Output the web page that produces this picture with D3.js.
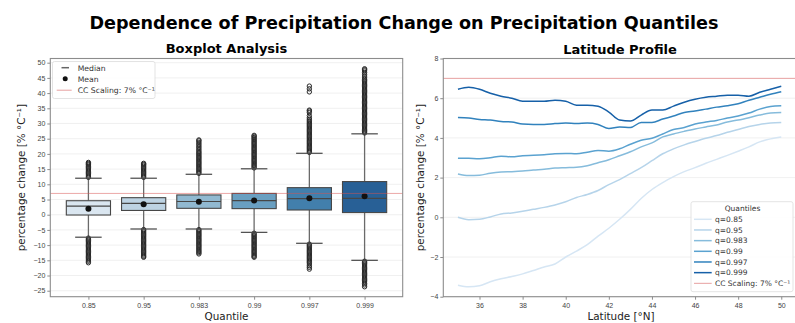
<!DOCTYPE html>
<html>
<head>
<meta charset="utf-8">
<script src="https://cdnjs.cloudflare.com/ajax/libs/d3/7.8.5/d3.min.js"></script>
<style>
  body { margin: 0; background: #fff; }
  svg { font-family: "DejaVu Sans", sans-serif; }
  .tick text { fill: #444; }
</style>
</head>
<body>
<div id="chart"></div>
<script>
var width = 795
var height = 323

// ---- boxplot data (percentage change, % per degC) ----
var quantiles = ['0.85', '0.95', '0.983', '0.99', '0.997', '0.999']
var q1 = [-0.1, 1.4, 2.1, 2.0, 1.55, 0.7]
var median = [2.8, 3.75, 4.35, 4.6, 5.3, 5.35]
var q3 = [4.6, 5.6, 6.5, 7.0, 8.9, 10.9]
var whiskerLow = [-7.4, -4.7, -4.7, -5.8, -9.4, -15.0]
var whiskerHigh = [12.0, 12.0, 13.3, 15.1, 20.2, 26.6]
var means = [2.0, 3.4, 4.3, 4.7, 5.4, 6.1]

var outHigh = [
  [12.3,12.7,13.1,13.5,13.9,14.3,14.7,15.1,15.5,15.9,16.3,16.6,16.9,17.2],
  [12.3,12.7,13.1,13.5,13.9,14.3,14.7,15.1,15.5,15.9,16.3,16.6,16.9],
  [13.6,14.0,14.4,14.8,15.2,15.6,16.0,16.4,16.8,17.2,17.6,18.0,18.4,18.8,19.2,19.6,20.0,20.4,20.8,21.3,21.8,22.3,22.8,23.3,23.8,24.3,24.6],
  [15.4,15.8,16.2,16.6,17.0,17.4,17.8,18.2,18.6,19.0,19.4,19.8,20.2,20.6,21.0,21.4,21.8,22.2,22.6,23.0,23.4,23.8,24.2,24.6,25.0,25.4,25.8,26.1],
  [20.5,20.9,21.3,21.7,22.1,22.5,22.9,23.3,23.7,24.1,24.5,24.9,25.3,25.7,26.1,26.5,26.9,27.3,27.7,28.1,28.5,28.9,29.3,29.7,30.1,30.5,30.9,31.4,31.9,32.6,33.6,34.1,34.4,40.4,41.4,42.3],
  [26.9,27.3,27.7,28.1,28.5,28.9,29.3,29.7,30.1,30.5,30.9,31.3,31.7,32.1,32.5,32.9,33.3,33.7,34.1,34.5,34.9,35.3,35.7,36.1,36.5,36.9,37.3,37.7,38.1,38.5,38.9,39.3,39.7,40.1,40.5,40.9,41.3,41.7,42.1,42.5,42.9,43.3,43.7,44.1,44.5,45.0,45.6,46.2,46.8,47.3,47.7,48.0]
]
var outLow = [
  [-7.7,-8.1,-8.5,-8.9,-9.3,-9.7,-10.1,-10.5,-10.9,-11.3,-11.7,-12.1,-12.5,-12.9,-13.3,-13.7,-14.1,-14.5,-14.9,-15.3,-15.8],
  [-4.9,-5.3,-5.7,-6.1,-6.5,-6.9,-7.3,-7.7,-8.1,-8.5,-8.9,-9.3,-9.7,-10.1,-10.5,-10.9,-11.3,-11.7,-12.1,-12.5,-12.9,-13.3,-13.7,-14.0],
  [-4.9,-5.3,-5.7,-6.1,-6.5,-6.9,-7.3,-7.7,-8.1,-8.5,-8.9,-9.3,-9.7,-10.1,-10.5,-10.9,-11.3,-11.7,-12.1,-12.5,-12.9],
  [-6.1,-6.5,-6.9,-7.3,-7.7,-8.1,-8.5,-8.9,-9.3,-9.7,-10.1,-10.5,-10.9,-11.3,-11.7,-12.1,-12.5,-12.9,-13.3,-13.7,-14.0],
  [-9.7,-10.1,-10.5,-10.9,-11.3,-11.7,-12.1,-12.5,-12.9,-13.3,-13.7,-14.1,-14.5,-14.9,-15.3,-15.7,-16.2,-16.8,-17.3,-17.9],
  [-15.3,-15.7,-16.1,-16.5,-16.9,-17.3,-17.7,-18.1,-18.5,-18.9,-19.3,-19.7,-20.1,-20.5,-20.9,-21.3,-21.7,-22.1,-22.6,-23.1,-23.7]
]

// ---- latitude profile data ----
var latitudes = [35, 35.5, 36, 36.5, 37, 37.5, 38, 38.5, 39, 39.5, 40, 40.5, 41, 41.5, 42, 42.5,
                 43, 43.5, 44, 44.5, 45, 45.5, 46, 46.5, 47, 47.5, 48, 48.5, 49, 49.5, 50]
var q085 = [-3.42,-3.5,-3.45,-3.25,-3.1,-2.98,-2.85,-2.68,-2.5,-2.35,-2.0,-1.7,-1.38,-0.95,-0.55,-0.1,
            0.4,0.95,1.4,1.75,2.05,2.3,2.5,2.72,2.92,3.12,3.33,3.55,3.8,3.95,4.05]
var q095 = [0.0,-0.12,-0.1,0.02,0.17,0.22,0.3,0.4,0.5,0.62,0.78,1.0,1.15,1.35,1.65,1.9,
            2.2,2.5,2.85,3.2,3.45,3.65,3.82,3.98,4.12,4.28,4.42,4.57,4.68,4.75,4.78]
var q0983 = [2.18,2.1,2.12,2.22,2.28,2.3,2.33,2.38,2.42,2.48,2.5,2.52,2.6,2.75,2.9,3.1,
             3.3,3.55,3.75,4.05,4.2,4.33,4.45,4.55,4.65,4.8,4.9,5.02,5.15,5.25,5.28]
var q099 = [2.98,2.97,2.95,3.0,3.08,3.05,3.1,3.12,3.15,3.2,3.22,3.2,3.28,3.37,3.33,3.45,
            3.68,3.88,3.98,4.2,4.42,4.52,4.7,4.8,4.88,5.0,5.1,5.25,5.45,5.58,5.62]
var q0997 = [5.03,5.0,4.93,4.9,4.83,4.8,4.7,4.68,4.68,4.72,4.75,4.73,4.75,4.68,4.47,4.55,
             4.52,4.78,4.78,4.95,5.1,5.28,5.35,5.45,5.55,5.62,5.72,5.9,6.05,6.2,6.33]
var q0999 = [6.45,6.55,6.45,6.25,6.1,6.0,5.85,5.85,5.85,5.9,5.85,5.65,5.65,5.6,5.3,4.9,
             4.85,5.15,5.4,5.4,5.6,5.8,5.95,6.05,6.1,6.15,6.15,6.1,6.3,6.45,6.6]
var seriesNames = ['q=0.85', 'q=0.95', 'q=0.983', 'q=0.99', 'q=0.997', 'q=0.999']
var seriesValues = [q085, q095, q0983, q099, q0997, q0999]
var ccScaling = 7

var blues = ['#d6e6f4', '#b6d4ea', '#86bcdc', '#5aa2d0', '#3182bd', '#1660a8']
var ccColor = '#e7a0a0'
var lineGray = '#474747'
var spineGray = '#8c8c8c'
var gridColor = '#ececec'

function desat(c) {
  var h = d3.hsl(c)
  h.s = h.s * 0.75
  return h.formatHex()
}

var svg = d3.select('#chart')
  .append('svg')
  .attr('width', width)
  .attr('height', height)

svg.append('text')
  .attr('x', 404)
  .attr('y', 29)
  .attr('text-anchor', 'middle')
  .style('font-size', '17.6px')
  .style('font-weight', 'bold')
  .text('Dependence of Precipitation Change on Precipitation Quantiles')

// =================== left: boxplot ===================
var L = {left: 50.3, right: 402.7, top: 58.5, bottom: 296.7}

var xBox = d3.scaleLinear().domain([-0.69, 5.69]).range([L.left, L.right])
var yBox = d3.scaleLinear().domain([-26.97, 51.38]).range([L.bottom, L.top])

var gL = svg.append('g')

// grid
gL.selectAll('.grid')
  .data(d3.range(-25, 51, 5))
  .enter().append('line')
  .attr('x1', L.left).attr('x2', L.right)
  .attr('y1', function(d) { return yBox(d) })
  .attr('y2', function(d) { return yBox(d) })
  .attr('stroke', gridColor)
  .attr('stroke-width', 0.8)

gL.append('g')
  .attr('transform', 'translate(' + L.left + ',0)')
  .call(d3.axisLeft(yBox).tickValues(d3.range(-25, 51, 5)).tickSize(3).tickPadding(2))
gL.append('g')
  .attr('transform', 'translate(0,' + L.bottom + ')')
  .call(d3.axisBottom(xBox).tickValues(d3.range(0, 6)).tickFormat(function(i) { return quantiles[i] }).tickSize(3).tickPadding(3))

var bw = 0.8 * (xBox(1) - xBox(0))
var capw = 0.6 * bw

var boxes = gL.selectAll('.box')
  .data(d3.range(quantiles.length))
  .enter().append('g')
  .attr('class', 'box')

// whiskers
boxes.append('line')
  .attr('x1', function(i) { return xBox(i) }).attr('x2', function(i) { return xBox(i) })
  .attr('y1', function(i) { return yBox(q3[i]) }).attr('y2', function(i) { return yBox(whiskerHigh[i]) })
  .attr('stroke', '#6a6a6a').attr('stroke-width', 1.3)
boxes.append('line')
  .attr('x1', function(i) { return xBox(i) }).attr('x2', function(i) { return xBox(i) })
  .attr('y1', function(i) { return yBox(q1[i]) }).attr('y2', function(i) { return yBox(whiskerLow[i]) })
  .attr('stroke', '#6a6a6a').attr('stroke-width', 1.3)

// fliers
boxes.each(function(i) {
  var pts = outHigh[i].concat(outLow[i])
  d3.select(this).selectAll('circle.flier')
    .data(pts)
    .enter().append('circle')
    .attr('class', 'flier')
    .attr('cx', xBox(i))
    .attr('cy', function(v) { return yBox(v) })
    .attr('r', 2.2)
    .attr('fill', 'none')
    .attr('stroke', '#2a2a2a')
    .attr('stroke-width', 1)
})

// caps
boxes.append('line')
  .attr('x1', function(i) { return xBox(i) - capw / 2 }).attr('x2', function(i) { return xBox(i) + capw / 2 })
  .attr('y1', function(i) { return yBox(whiskerHigh[i]) }).attr('y2', function(i) { return yBox(whiskerHigh[i]) })
  .attr('stroke', lineGray).attr('stroke-width', 1.2)
boxes.append('line')
  .attr('x1', function(i) { return xBox(i) - capw / 2 }).attr('x2', function(i) { return xBox(i) + capw / 2 })
  .attr('y1', function(i) { return yBox(whiskerLow[i]) }).attr('y2', function(i) { return yBox(whiskerLow[i]) })
  .attr('stroke', lineGray).attr('stroke-width', 1.2)

// box bodies
boxes.append('rect')
  .attr('x', function(i) { return xBox(i) - bw / 2 })
  .attr('width', bw)
  .attr('y', function(i) { return yBox(q3[i]) })
  .attr('height', function(i) { return yBox(q1[i]) - yBox(q3[i]) })
  .attr('fill', function(i) { return desat(blues[i]) })
  .attr('stroke', lineGray)
  .attr('stroke-width', 1.1)

boxes.append('line')
  .attr('x1', function(i) { return xBox(i) - bw / 2 }).attr('x2', function(i) { return xBox(i) + bw / 2 })
  .attr('y1', function(i) { return yBox(median[i]) }).attr('y2', function(i) { return yBox(median[i]) })
  .attr('stroke', lineGray).attr('stroke-width', 1.2)

// cc line drawn over the boxes
gL.append('line')
  .attr('x1', L.left).attr('x2', L.right)
  .attr('y1', yBox(ccScaling)).attr('y2', yBox(ccScaling))
  .attr('stroke', '#d9534f')
  .attr('stroke-opacity', 0.5)
  .attr('stroke-width', 1)

boxes.append('circle')
  .attr('cx', function(i) { return xBox(i) })
  .attr('cy', function(i) { return yBox(means[i]) })
  .attr('r', 3)
  .attr('fill', '#111')

// frame
gL.append('rect')
  .attr('x', L.left).attr('y', L.top)
  .attr('width', L.right - L.left).attr('height', L.bottom - L.top)
  .attr('fill', 'none')
  .attr('stroke', spineGray)
  .attr('stroke-width', 1.1)

// legend
var lg = gL.append('g')
lg.append('rect')
  .attr('x', 52.5).attr('y', 61.5).attr('width', 102.5).attr('height', 37)
  .attr('rx', 2)
  .attr('fill', '#fff').attr('fill-opacity', 0.85)
  .attr('stroke', '#dcdcdc').attr('stroke-width', 0.8)
lg.append('line').attr('x1', 61.5).attr('x2', 69).attr('y1', 67.7).attr('y2', 67.7)
  .attr('stroke', '#666').attr('stroke-width', 1.5)
lg.append('circle').attr('cx', 65.2).attr('cy', 78.7).attr('r', 2.5).attr('fill', '#111')
lg.append('line').attr('x1', 56.7).attr('x2', 71.7).attr('y1', 90.2).attr('y2', 90.2)
  .attr('stroke', ccColor).attr('stroke-width', 1)
lg.selectAll('text.lt')
  .data(['Median', 'Mean', 'CC Scaling: 7% °C⁻¹'])
  .enter().append('text')
  .attr('class', 'lt')
  .attr('x', 77.7)
  .attr('y', function(d, i) { return 70.5 + i * 11.2 })
  .style('font-size', '7.7px')
  .attr('fill', '#333')
  .text(function(d) { return d })

gL.append('text')
  .attr('x', (L.left + L.right) / 2)
  .attr('y', 53)
  .attr('text-anchor', 'middle')
  .style('font-size', '13px')
  .style('font-weight', 'bold')
  .text('Boxplot Analysis')

gL.append('text')
  .attr('x', (L.left + L.right) / 2)
  .attr('y', 320)
  .attr('text-anchor', 'middle')
  .style('font-size', '10.4px')
  .attr('fill', '#222')
  .text('Quantile')

gL.append('text')
  .attr('transform', 'translate(24.5,' + ((L.top + L.bottom) / 2) + ') rotate(-90)')
  .attr('text-anchor', 'middle')
  .style('font-size', '10.4px')
  .attr('fill', '#222')
  .text('percentage change [% °C⁻¹]')

// =================== right: latitude profile ===================
var R = {left: 443.3, right: 797, top: 58.5, bottom: 296.7}

var xLat = d3.scaleLinear().domain([34.32, 50.73]).range([R.left, R.right])
var yLat = d3.scaleLinear().domain([-4, 8]).range([R.bottom, R.top])

var gR = svg.append('g')

gR.selectAll('.grid')
  .data(d3.range(-4, 9, 2))
  .enter().append('line')
  .attr('x1', R.left).attr('x2', R.right)
  .attr('y1', function(d) { return yLat(d) })
  .attr('y2', function(d) { return yLat(d) })
  .attr('stroke', gridColor)
  .attr('stroke-width', 0.8)

gR.append('g')
  .attr('transform', 'translate(' + R.left + ',0)')
  .call(d3.axisLeft(yLat).tickValues(d3.range(-4, 9, 2)).tickSize(3).tickPadding(2))
gR.append('g')
  .attr('transform', 'translate(0,' + R.bottom + ')')
  .call(d3.axisBottom(xLat).tickValues(d3.range(36, 51, 2)).tickSize(3).tickPadding(3))

gR.append('line')
  .attr('x1', R.left).attr('x2', R.right)
  .attr('y1', yLat(ccScaling)).attr('y2', yLat(ccScaling))
  .attr('stroke', ccColor)
  .attr('stroke-width', 1)

var line = d3.line()
  .x(function(d, i) { return xLat(latitudes[i]) })
  .y(function(d) { return yLat(d) })
  .curve(d3.curveMonotoneX)

gR.selectAll('.series')
  .data(seriesValues)
  .enter().append('path')
  .attr('class', 'series')
  .attr('d', line)
  .attr('fill', 'none')
  .attr('stroke', function(d, i) { return blues[i] })
  .attr('stroke-width', 1.5)
  .attr('stroke-linejoin', 'round')

gR.append('rect')
  .attr('x', R.left).attr('y', R.top)
  .attr('width', R.right - R.left).attr('height', R.bottom - R.top)
  .attr('fill', 'none')
  .attr('stroke', spineGray)
  .attr('stroke-width', 1.1)

// legend
var rg = gR.append('g')
rg.append('rect')
  .attr('x', 691).attr('y', 201.7).attr('width', 102).attr('height', 90)
  .attr('rx', 2)
  .attr('fill', '#fff').attr('fill-opacity', 0.85)
  .attr('stroke', '#dcdcdc').attr('stroke-width', 0.8)
rg.append('text')
  .attr('x', 742.5).attr('y', 210.8)
  .attr('text-anchor', 'middle')
  .style('font-size', '7.5px')
  .attr('fill', '#333')
  .text('Quantiles')
var legItems = seriesNames.concat(['CC Scaling: 7% °C⁻¹'])
var legColors = blues.concat([ccColor])
rg.selectAll('line.li')
  .data(legItems)
  .enter().append('line')
  .attr('class', 'li')
  .attr('x1', 694).attr('x2', 711.7)
  .attr('y1', function(d, i) { return 219.3 + i * 10.67 })
  .attr('y2', function(d, i) { return 219.3 + i * 10.67 })
  .attr('stroke', function(d, i) { return legColors[i] })
  .attr('stroke-width', function(d, i) { return i < 6 ? 1.5 : 1 })
rg.selectAll('text.li')
  .data(legItems)
  .enter().append('text')
  .attr('class', 'li')
  .attr('x', 715)
  .attr('y', function(d, i) { return 222 + i * 10.67 })
  .style('font-size', '7.5px')
  .attr('fill', '#333')
  .text(function(d) { return d })

gR.append('text')
  .attr('x', 620)
  .attr('y', 53.5)
  .attr('text-anchor', 'middle')
  .style('font-size', '13px')
  .style('font-weight', 'bold')
  .text('Latitude Profile')

gR.append('text')
  .attr('x', 621)
  .attr('y', 320)
  .attr('text-anchor', 'middle')
  .style('font-size', '10.4px')
  .attr('fill', '#222')
  .text('Latitude [°N]')

gR.append('text')
  .attr('transform', 'translate(424,' + ((R.top + R.bottom) / 2) + ') rotate(-90)')
  .attr('text-anchor', 'middle')
  .style('font-size', '10.4px')
  .attr('fill', '#222')
  .text('percentage change [% °C⁻¹]')

// axis styling
svg.selectAll('.domain').remove()
svg.selectAll('.tick line').attr('stroke', spineGray)
svg.selectAll('.tick text').style('font-size', '7px').attr('fill', '#444')
</script>
</body>
</html>
